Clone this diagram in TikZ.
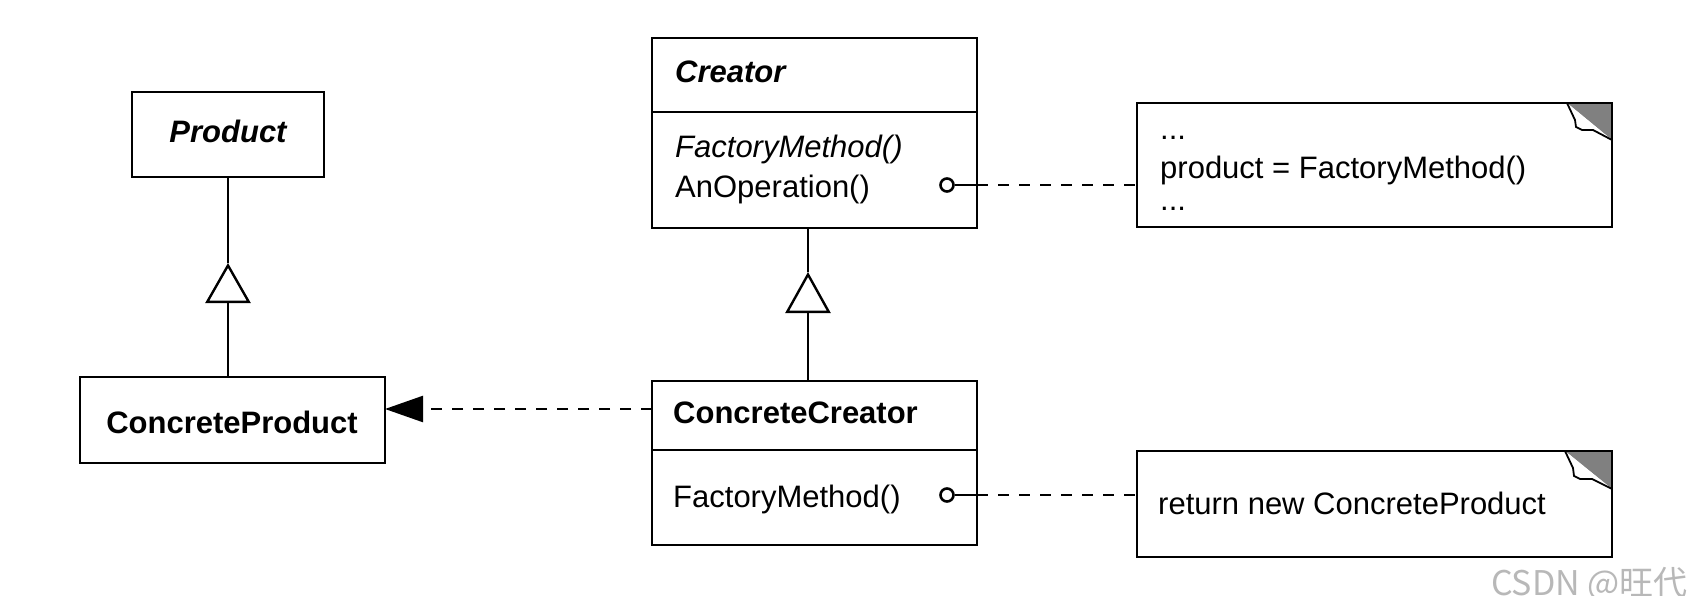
\documentclass[tikz,border=0pt]{standalone}
\usepackage{fontspec}
\setmainfont{Liberation Sans}
\newfontfamily\cjkfont{Noto Sans CJK SC}
\usetikzlibrary{arrows.meta,calc}
\begin{document}
\begin{tikzpicture}[x=1pt,y=-1pt,
  box/.style={draw,line width=2.8pt,rectangle,anchor=north west,inner sep=0pt,outer sep=0pt},
  lbl/.style={anchor=base west,inner sep=0pt,font=\fontsize{31}{37}\selectfont},
  clbl/.style={anchor=base,inner sep=0pt,font=\fontsize{31}{37}\selectfont},
  conn/.style={line width=2.4pt},
  dline/.style={line width=2.4pt,dash pattern=on 11pt off 10pt},
  knob/.style={circle,draw,line width=2.6pt,minimum size=13pt,inner sep=0pt,fill=white},
  foldgray/.style={fill=black!50},
  foldline/.style={line width=1.8pt,fill=white}
]
\useasboundingbox[fill=white] (0,0) rectangle (1692,596);

% class boxes
\node[box,minimum width=192pt,minimum height=85pt] (product) at (132,92) {};
\node[box,minimum width=305pt,minimum height=86pt] (cproduct) at (80,377) {};
\node[box,minimum width=325pt,minimum height=190pt] (creator) at (652,38) {};
\node[box,minimum width=325pt,minimum height=164pt] (ccreator) at (652,381) {};
\coordinate (div1) at (0,112);
\coordinate (div2) at (0,450);
\draw[line width=2.8pt] (creator.west |- div1) -- (creator.east |- div1);
\draw[line width=2.8pt] (ccreator.west |- div2) -- (ccreator.east |- div2);

% notes
\node[box,minimum width=475pt,minimum height=124pt] (note1) at (1137,103) {};
\node[box,minimum width=475pt,minimum height=106pt] (note2) at (1137,451) {};
\begin{scope}[shift={(note1.north east)}]
  \fill[foldgray] (-45,0) -- (0,0) -- (0,37) -- cycle;
  \draw[foldline] (-45,0) -- (-37,17) -- (-36,24) -- (-30,27) -- (-19,27) -- (0,37);
  \draw[line width=2.8pt] (-60,0) -- (0,0) -- (0,50);
\end{scope}
\begin{scope}[shift={(note2.north east)}]
  \fill[foldgray] (-47,0) -- (0,0) -- (0,38) -- cycle;
  \draw[foldline] (-47,0) -- (-39,17) -- (-38,25) -- (-32,28) -- (-20,28) -- (0,38);
  \draw[line width=2.8pt] (-60,0) -- (0,0) -- (0,50);
\end{scope}

% texts
\node[clbl] (productT) at (228,143) {\bfseries\itshape Product};
\node[clbl] (cproductT) at (232,433) {\bfseries ConcreteProduct};
\node[lbl] (creatorT) at (675,83) {\bfseries\itshape Creator};
\node[lbl] (fm1) at (675,158) {\itshape FactoryMethod()};
\node[lbl] (anop) at (675,198) {AnOperation()};
\node[lbl] (ccT) at (673,423) {\bfseries ConcreteCreator};
\node[lbl] (fm2) at (673,507) {FactoryMethod()};
\node[lbl] (dots1) at (1160,140) {...};
\node[lbl] (pf) at (1160,179) {product = FactoryMethod()};
\node[lbl] (dots2) at (1160,211) {...};
\node[lbl] (ret) at (1158,514) {return new ConcreteProduct};

% inheritance
\coordinate (t1) at (228,263);
\draw[conn,-{Triangle[open,length=40pt,width=45pt,fill=white]}] (cproduct.north -| t1) -- (t1);
\draw[conn] (t1) -- (product.south -| t1);
\coordinate (t2) at (808,272);
\draw[conn,-{Triangle[open,length=41pt,width=45pt,fill=white]}] (ccreator.north -| t2) -- (t2);
\draw[conn] (t2) -- (creator.south -| t2);

% association
\coordinate (ay) at (0,409);
\draw[dline,-{Triangle[length=38pt,width=26pt]}] (ccreator.west |- ay) -- (cproduct.east |- ay);

% note connectors
\node[knob] (k1) at (947,185) {};
\draw[conn] (k1) -- (creator.east |- k1);
\draw[dline] (creator.east |- k1) -- (note1.west |- k1);
\node[knob] (k2) at (947,495) {};
\draw[conn] (k2) -- (ccreator.east |- k2);
\draw[dline] (ccreator.east |- k2) -- (note2.west |- k2);

% watermark
\node[anchor=base east,inner sep=0pt,text=black!28,font=\fontsize{34}{40}\cjkfont] (wm) at (1688,595) {CSDN @旺代};
\end{tikzpicture}
\end{document}
